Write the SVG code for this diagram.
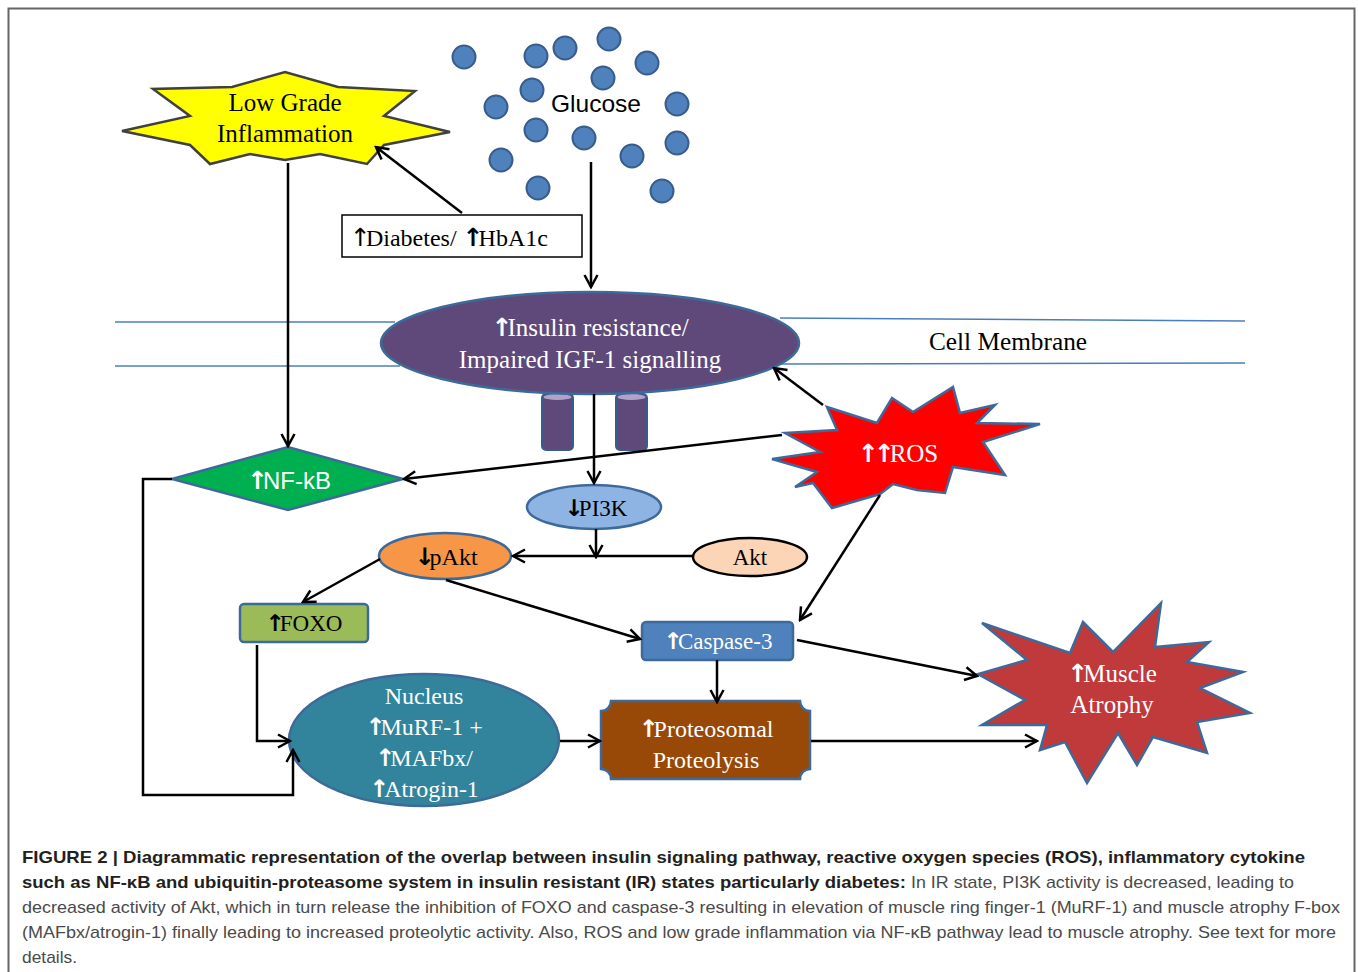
<svg xmlns="http://www.w3.org/2000/svg" width="1358" height="972" viewBox="0 0 1358 972">
<style>
.conn{stroke:#000;stroke-width:2.5;fill:none;marker-end:url(#ah)}
.mem{stroke:#4A7EBB;stroke-width:1.5;fill:none}
.ser{font-family:"Liberation Serif","Times New Roman",serif}
.san{font-family:"Liberation Sans",Arial,sans-serif}
.w{fill:#fff}
.k{fill:#000}
.arw{font-family:"DejaVu Sans",sans-serif;font-weight:bold;letter-spacing:-5px}
.glc{fill:#4F81BD;stroke:#385D8A;stroke-width:2}
.bl{stroke:#3E6A9A;stroke-width:2.5}
.capb{font-family:"Liberation Sans",Arial,sans-serif;font-weight:bold;font-size:17px;fill:#231F20}
.capr{font-family:"Liberation Sans",Arial,sans-serif;font-size:17px;fill:#4a4a4a}
</style>
<defs>
<marker id="ah" markerUnits="userSpaceOnUse" markerWidth="16" markerHeight="16" viewBox="0 0 16 16" refX="14" refY="8" orient="auto">
<path d="M2,1.5 L14,8 L2,14.5" fill="none" stroke="#000" stroke-width="2.5"/>
</marker>
</defs>
<rect x="0" y="0" width="1358" height="972" fill="#fff"/>
<rect x="8.5" y="8.5" width="1346" height="1000" fill="none" stroke="#666" stroke-width="2"/>

<g id="membrane">
<line class="mem" x1="115" y1="322" x2="395" y2="322"/>
<line class="mem" x1="780" y1="318" x2="1245" y2="321"/>
<line class="mem" x1="115" y1="366" x2="400" y2="366"/>
<line class="mem" x1="780" y1="364" x2="1245" y2="363"/>
<text class="ser k" x="929" y="350" font-size="25" textLength="158" lengthAdjust="spacingAndGlyphs">Cell Membrane</text>
</g>

<g id="glucose">
<circle class="glc" cx="464" cy="57" r="11.5"/>
<circle class="glc" cx="536" cy="56" r="11.5"/>
<circle class="glc" cx="565" cy="48" r="11.5"/>
<circle class="glc" cx="609" cy="39" r="11.5"/>
<circle class="glc" cx="647" cy="63" r="11.5"/>
<circle class="glc" cx="603" cy="78" r="11.5"/>
<circle class="glc" cx="532" cy="90" r="11.5"/>
<circle class="glc" cx="496" cy="107" r="11.5"/>
<circle class="glc" cx="677" cy="104" r="11.5"/>
<circle class="glc" cx="536" cy="130" r="11.5"/>
<circle class="glc" cx="584" cy="138" r="11.5"/>
<circle class="glc" cx="632" cy="156" r="11.5"/>
<circle class="glc" cx="677" cy="143" r="11.5"/>
<circle class="glc" cx="501" cy="160" r="11.5"/>
<circle class="glc" cx="538" cy="188" r="11.5"/>
<circle class="glc" cx="662" cy="191" r="11.5"/>
<text class="san k" x="596" y="112" font-size="24" text-anchor="middle" textLength="90" lengthAdjust="spacingAndGlyphs">Glucose</text>
</g>

<g id="inflammation">
<polygon points="122,131 190,116 153,89 232,87 285,72 338,87 415,91 384,116 450,132 384,145 367,164 320,154 285,160 250,154 210,164 190,145" fill="#FFFF00" stroke="#404040" stroke-width="2.5"/>
<text class="ser k" x="285" y="111" font-size="25" text-anchor="middle">Low Grade</text>
<text class="ser k" x="285" y="142" font-size="25" text-anchor="middle">Inflammation</text>
</g>

<g id="diabetes">
<rect x="342" y="215" width="240" height="42" fill="#fff" stroke="#000" stroke-width="1.5"/>
<text class="ser k" x="350" y="246" font-size="24"><tspan font-family="DejaVu Sans" font-size="25" letter-spacing="-5">↑</tspan>Diabetes/ <tspan class="arw" font-size="25">↑</tspan>HbA1c</text>
</g>

<g id="insulin">
<rect x="542" y="394" width="31" height="56" rx="4" fill="#5F497A" stroke="#385D8A" stroke-width="2"/>
<ellipse cx="557.5" cy="397" rx="14" ry="3" fill="#B3A2C7"/>
<rect x="616" y="394" width="31" height="56" rx="4" fill="#5F497A" stroke="#385D8A" stroke-width="2"/>
<ellipse cx="631.5" cy="397" rx="14" ry="3" fill="#B3A2C7"/>
<ellipse cx="590" cy="343" rx="209" ry="51" fill="#5F497A" class="bl"/>
<text class="ser w" x="590" y="336" font-size="25" text-anchor="middle"><tspan class="arw" font-size="25">↑</tspan>Insulin resistance/</text>
<text class="ser w" x="590" y="368" font-size="25" text-anchor="middle">Impaired IGF-1 signalling</text>
</g>

<g id="ros">
<polygon points="827,407 877,423 892,398 913,412 953,387 960,413 995,405 977,423 1040,424 983,442 1005,475 953,467 945,493 917,490 893,484 880,494 832,508 813,483 795,487 817,472 772,459 820,452 785,433 837,430" fill="#FF0000" class="bl"/>
<text class="ser w" x="898" y="462" font-size="25" text-anchor="middle"><tspan class="arw" font-size="25" letter-spacing="-8">↑↑</tspan>ROS</text>
</g>

<g id="nfkb">
<polygon points="172,479 288,447 403,479 288,510" fill="#00B050" class="bl"/>
<text class="san w" x="289" y="489" font-size="24" text-anchor="middle"><tspan class="arw" font-size="25">↑</tspan>NF-kB</text>
</g>

<g id="pi3k">
<ellipse cx="594" cy="507" rx="67" ry="22" fill="#8EB4E3" class="bl"/>
<text class="ser k" x="596" y="516" font-size="23" text-anchor="middle"><tspan class="arw" font-size="23">↓</tspan>PI3K</text>
</g>

<g id="akt">
<ellipse cx="750" cy="557" rx="57" ry="19" fill="#FBD5B5" stroke="#000" stroke-width="2.5"/>
<text class="ser k" x="750" y="565" font-size="23" text-anchor="middle">Akt</text>
</g>

<g id="pakt">
<ellipse cx="445" cy="556" rx="66" ry="23" fill="#F79646" class="bl"/>
<text class="ser k" x="446" y="565" font-size="24" text-anchor="middle"><tspan class="arw" font-size="24">↓</tspan>pAkt</text>
</g>

<g id="foxo">
<rect x="240" y="604" width="128" height="38" rx="4" fill="#9BBB59" class="bl"/>
<text class="ser k" x="304" y="631" font-size="23" text-anchor="middle"><tspan class="arw" font-size="23">↑</tspan>FOXO</text>
</g>

<g id="caspase">
<rect x="642" y="622" width="151" height="38" rx="4" fill="#4F81BD" class="bl"/>
<text class="ser w" x="718" y="649" font-size="23" text-anchor="middle"><tspan class="arw" font-size="23">↑</tspan>Caspase-3</text>
</g>

<g id="nucleus">
<ellipse cx="424" cy="740" rx="135" ry="66" fill="#31849B" class="bl"/>
<text class="ser w" x="424" y="704" font-size="24" text-anchor="middle">Nucleus</text>
<text class="ser w" x="424" y="735" font-size="24" text-anchor="middle"><tspan class="arw" font-size="24">↑</tspan>MuRF-1 +</text>
<text class="ser w" x="424" y="766" font-size="24" text-anchor="middle"><tspan class="arw" font-size="24">↑</tspan>MAFbx/</text>
<text class="ser w" x="424" y="797" font-size="24" text-anchor="middle"><tspan class="arw" font-size="24">↑</tspan>Atrogin-1</text>
</g>

<g id="proteosomal">
<path d="M611,701 H800 A10,10 0 0 0 810,711 V769 A10,10 0 0 0 800,779 H611 A10,10 0 0 0 601,769 V711 A10,10 0 0 0 611,701 Z" fill="#984807" class="bl"/>
<text class="ser w" x="706" y="737" font-size="24" text-anchor="middle"><tspan class="arw" font-size="24">↑</tspan>Proteosomal</text>
<text class="ser w" x="706" y="768" font-size="24" text-anchor="middle">Proteolysis</text>
</g>

<g id="atrophy">
<polygon points="982,623 1070,653 1083,622 1113,652 1161,603 1155,647 1209,642 1187,662 1243,672 1200,688 1250,713 1197,722 1207,753 1153,737 1137,765 1118,733 1087,783 1065,742 1040,750 1047,725 982,725 1025,700 978,674 1027,660" fill="#C0393B" class="bl"/>
<text class="ser w" x="1112" y="682" font-size="25" text-anchor="middle"><tspan class="arw" font-size="25">↑</tspan>Muscle</text>
<text class="ser w" x="1112" y="713" font-size="25" text-anchor="middle">Atrophy</text>
</g>

<g id="connectors">
<line class="conn" x1="462" y1="213" x2="376" y2="147"/>
<line class="conn" x1="591" y1="162" x2="591" y2="287"/>
<line class="conn" x1="288" y1="163" x2="288" y2="446"/>
<line class="conn" x1="823" y1="405" x2="774" y2="368"/>
<line class="conn" x1="782" y1="435" x2="404" y2="479"/>
<line class="conn" x1="594" y1="394" x2="594" y2="483"/>
<line class="conn" x1="596" y1="529" x2="596" y2="557"/>
<line class="conn" x1="693" y1="556" x2="513" y2="556"/>
<line class="conn" x1="380" y1="559" x2="303" y2="602"/>
<line class="conn" x1="446" y1="580" x2="640" y2="639"/>
<line class="conn" x1="880" y1="495" x2="800" y2="620"/>
<line class="conn" x1="717" y1="660" x2="717" y2="702"/>
<line class="conn" x1="797" y1="640" x2="977" y2="676"/>
<polyline class="conn" points="257,645 257,741 290,741"/>
<polyline class="conn" points="172,479 143,479 143,795 293,795 293,750"/>
<line class="conn" x1="560" y1="741" x2="600" y2="741"/>
<line class="conn" x1="811" y1="741" x2="1037" y2="741"/>
</g>

<g id="caption">
<text class="capb" x="22" y="863" textLength="1283" lengthAdjust="spacingAndGlyphs">FIGURE 2 | Diagrammatic representation of the overlap between insulin signaling pathway, reactive oxygen species (ROS), inflammatory cytokine</text>
<text class="capb" x="22" y="888" textLength="884" lengthAdjust="spacingAndGlyphs">such as NF-κB and ubiquitin-proteasome system in insulin resistant (IR) states particularly diabetes:</text>
<text class="capr" x="911" y="888" textLength="383" lengthAdjust="spacingAndGlyphs">In IR state, PI3K activity is decreased, leading to</text>
<text class="capr" x="22" y="913" textLength="1318" lengthAdjust="spacingAndGlyphs">decreased activity of Akt, which in turn release the inhibition of FOXO and caspase-3 resulting in elevation of muscle ring finger-1 (MuRF-1) and muscle atrophy F-box</text>
<text class="capr" x="22" y="938" textLength="1314" lengthAdjust="spacingAndGlyphs">(MAFbx/atrogin-1) finally leading to increased proteolytic activity. Also, ROS and low grade inflammation via NF-κB pathway lead to muscle atrophy. See text for more</text>
<text class="capr" x="22" y="963" textLength="55" lengthAdjust="spacingAndGlyphs">details.</text>
</g>
</svg>
